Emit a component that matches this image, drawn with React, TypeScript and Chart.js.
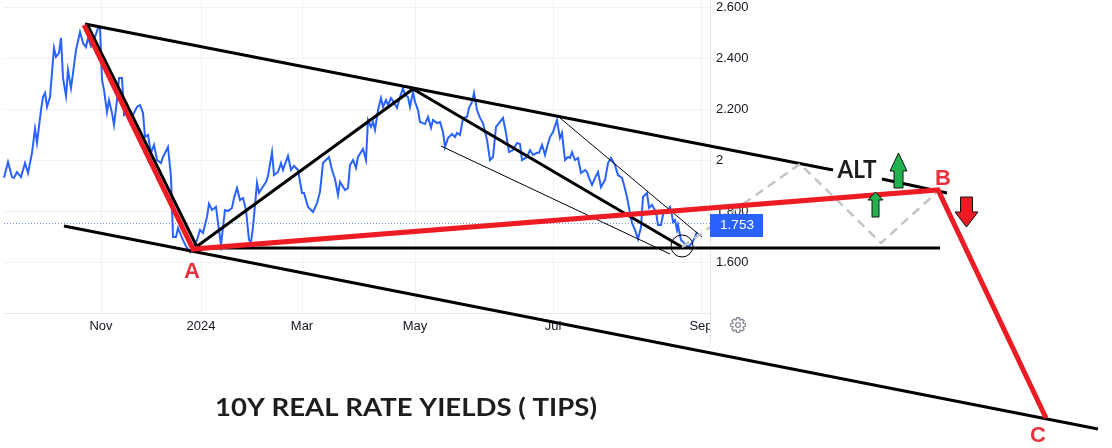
import React, { useEffect, useRef } from 'react';
import { Chart, registerables } from 'chart.js';

Chart.register(...registerables);

// Session timeline position (bar axis) and 10Y real yield values
const sessionIdx = [
  4, 8, 12, 14, 17, 21, 25, 28, 32, 35, 37, 41, 43, 45, 47, 50, 54, 56, 59, 61, 63, 66, 68, 71, 73, 76, 80, 83, 86, 88,
  91, 95, 98, 100, 102, 104, 107, 109, 112, 114, 117, 119, 122, 124, 127, 132, 137, 140, 143, 145, 148, 151, 154, 157,
  161, 163, 168, 171, 173, 176, 178, 180, 183, 186, 190, 194, 197, 200, 203, 207, 209, 212, 216, 218, 221, 223, 225, 228,
  232, 234, 237, 240, 243, 246, 249, 251, 253, 257, 259, 262, 266, 268, 272, 274, 278, 281, 283, 288, 291, 294, 298,
  302, 304, 308, 313, 317, 320, 323, 329, 332, 335, 338, 340, 345, 348, 350, 353, 356, 358, 363, 366, 368, 371, 373,
  375, 378, 381, 383, 386, 388, 391, 393, 397, 400, 403, 405, 408, 410, 413, 415, 418, 420, 425, 428, 431, 433, 437,
  440, 443, 445, 448, 452, 455, 457, 460, 463, 467, 469, 472, 474, 477, 480, 483, 487, 490, 493, 496, 499, 503, 506,
  509, 513, 517, 520, 522, 527, 530, 533, 537, 539, 542, 545, 547, 550, 553, 557, 558, 560, 562, 565, 568, 570, 572,
  575, 578, 581, 585, 587, 589, 592, 595, 598, 601, 605, 608, 611, 615, 618, 622, 624, 627, 630, 632, 635, 638, 641,
  643, 647, 649, 652, 656, 658, 661, 664, 668, 670, 672, 673, 675, 677, 678, 681, 684, 688, 692, 695, 697,
];
const realYield = [
  1.93, 1.992, 1.933, 1.93, 1.953, 1.933, 1.988, 1.949, 2.028, 2.122, 2.067, 2.196, 2.247, 2.263, 2.208, 2.247, 2.439,
  2.404, 2.42, 2.479, 2.322, 2.251, 2.353, 2.282, 2.341, 2.431, 2.502, 2.459, 2.443, 2.479, 2.447, 2.482, 2.518, 2.518,
  2.314, 2.275, 2.188, 2.235, 2.184, 2.137, 2.235, 2.322, 2.322, 2.177, 2.188, 2.169, 2.208, 2.216, 2.184, 2.09, 2.098,
  2.028, 2.059, 2.0, 1.988, 2.012, 2.051, 1.933, 1.698, 1.698, 1.733, 1.714, 1.686, 1.662, 1.639, 1.667, 1.686, 1.726,
  1.714, 1.777, 1.828, 1.804, 1.816, 1.753, 1.667, 1.737, 1.804, 1.8, 1.812, 1.851, 1.89, 1.843, 1.851, 1.804, 1.686,
  1.679, 1.737, 1.91, 1.871, 1.89, 1.914, 1.937, 2.031, 1.941, 1.953, 1.988, 1.961, 2.016, 1.961, 1.977, 1.961, 1.871,
  1.871, 1.816, 1.796, 1.831, 1.875, 1.988, 2.012, 1.961, 1.926, 1.863, 1.914, 1.882, 1.89, 1.98, 2.0, 1.969, 2.012,
  2.043, 2.0, 2.157, 2.13, 2.149, 2.118, 2.196, 2.243, 2.208, 2.235, 2.216, 2.243, 2.231, 2.204, 2.247, 2.282, 2.255,
  2.247, 2.208, 2.267, 2.228, 2.196, 2.149, 2.141, 2.169, 2.126, 2.157, 2.145, 2.149, 2.11, 2.051, 2.086, 2.102, 2.09,
  2.106, 2.098, 2.165, 2.169, 2.204, 2.228, 2.263, 2.196, 2.165, 2.145, 2.079, 2.0, 2.012, 2.13, 2.145, 2.165, 2.106,
  2.031, 2.039, 2.067, 2.063, 2.0, 2.012, 2.039, 2.02, 2.028, 2.028, 2.059, 2.02, 2.051, 2.09, 2.11, 2.157, 2.13, 2.086,
  2.106, 2.0, 2.012, 2.008, 2.031, 2.0, 2.008, 1.949, 1.961, 1.953, 1.93, 1.902, 1.93, 1.953, 1.894, 1.922, 1.988, 2.008,
  1.98, 1.941, 1.93, 1.902, 1.855, 1.792, 1.753, 1.726, 1.69, 1.737, 1.855, 1.871, 1.812, 1.824, 1.796, 1.745, 1.745,
  1.804, 1.804, 1.816, 1.784, 1.757, 1.765, 1.726, 1.745, 1.686, 1.675, 1.659, 1.675, 1.698, 1.718, 1.753,
];

const yTicks = [1.6, 1.8, 2.0, 2.2, 2.4, 2.6];
const yTickLabels = ['1.600', '1.800', '2', '2.200', '2.400', '2.600'];
const monthLabels = ['Nov', '2024', 'Mar', 'May', 'Jul', 'Sep'];
const monthPos = [101, 201, 302, 415, 553, 701];
const lastValue = 1.753;
const lastLabel = '1.753';
const title = '10Y REAL RATE YIELDS ( TIPS)';

// Annotation drawings (timeline position, yield)
const redWave = [[84, 2.5295], [193, 1.651], [938, 1.8824], [1046, 0.9883]];
const blackLeg1 = [[87, 2.5334], [197, 1.6589]];
const blackLeg2 = [[196, 1.6589], [413, 2.2785]];
const blackLeg3 = [[413, 2.2785], [682, 1.6589]];
const topChannelA = [[85, 2.5334], [833, 1.9608]];
const topChannelB = [[882, 1.9255], [947, 1.8706]];
const bottomChannel = [[64, 1.7412], [1098, 0.9451]];
const supportLine = [[195, 1.655], [940, 1.655]];
const thinLineA = [[441, 2.0549], [670, 1.6314]];
const thinLineB = [[560, 2.1648], [702, 1.698]];
const altPath = [[682, 1.6589], [800, 1.9844], [881, 1.6746], [936, 1.8706]];
const circlePoint = [[682, 1.6628]];

const pointLabels = [
  { text: 'A', x: 192, y: 1.5647 },
  { text: 'B', x: 943, y: 1.9294 },
  { text: 'C', x: 1038, y: 0.9216 },
];
const altLabel = { text: 'ALT', x: 857, y: 1.9588 };
const titlePos = { x: 406, y: 1.0275 };
const arrows = [
  { x: 898.5, y: 2.0275, dir: 'up', headW: 17, headH: 18, shaftW: 9, shaftL: 17, color: '#22b14c' },
  { x: 875.5, y: 1.8745, dir: 'up', headW: 15, headH: 8, shaftW: 7, shaftL: 17, color: '#22b14c' },
  { x: 966.5, y: 1.7373, dir: 'down', headW: 23, headH: 15, shaftW: 12, shaftL: 15, color: '#ed1c24' },
];

const toPts = (arr: number[][]) => arr.map(([x, y]) => ({ x, y }));

export default function App() {
  const ref = useRef<HTMLCanvasElement | null>(null);

  useEffect(() => {
    document.body.style.margin = '0';
    const canvas = ref.current;
    if (!canvas) return;

    const plotLeft = 4;
    const plotRight = 710;
    const plotBottomVal = 1.4;

    const bgPlugin = {
      id: 'tvBackground',
      beforeDatasetsDraw(chart: any) {
        const { ctx } = chart;
        const xs = chart.scales.x;
        const ys = chart.scales.y;
        const bottom = ys.getPixelForValue(plotBottomVal);
        ctx.save();
        ctx.lineWidth = 1;
        ctx.strokeStyle = '#f0f2f5';
        yTicks.forEach((t) => {
          const py = Math.round(ys.getPixelForValue(t)) + 0.5;
          ctx.beginPath();
          ctx.moveTo(plotLeft, py);
          ctx.lineTo(plotRight, py);
          ctx.stroke();
        });
        monthPos.forEach((m) => {
          const px = Math.round(xs.getPixelForValue(m)) + 0.5;
          ctx.beginPath();
          ctx.moveTo(px, 0);
          ctx.lineTo(px, bottom);
          ctx.stroke();
        });
        ctx.strokeStyle = '#e4e6eb';
        ctx.beginPath();
        ctx.moveTo(plotLeft, Math.round(bottom) + 0.5);
        ctx.lineTo(plotRight, Math.round(bottom) + 0.5);
        ctx.stroke();
        ctx.beginPath();
        ctx.moveTo(plotRight + 0.5, 0);
        ctx.lineTo(plotRight + 0.5, bottom + 28);
        ctx.stroke();

        // last-value dotted line
        const ly = Math.round(ys.getPixelForValue(lastValue)) + 0.5;
        ctx.strokeStyle = '#6f8ff7';
        ctx.setLineDash([1, 2]);
        ctx.beginPath();
        ctx.moveTo(plotLeft, ly);
        ctx.lineTo(plotRight, ly);
        ctx.stroke();
        ctx.setLineDash([]);

        // y labels
        ctx.fillStyle = '#131722';
        ctx.font = '13px "Liberation Sans", Arial, sans-serif';
        ctx.textAlign = 'left';
        ctx.textBaseline = 'middle';
        yTicks.forEach((t, i) => {
          ctx.fillText(yTickLabels[i], 716, ys.getPixelForValue(t));
        });

        // x labels (clipped at the price scale)
        ctx.save();
        ctx.beginPath();
        ctx.rect(0, bottom, plotRight, 40);
        ctx.clip();
        ctx.textAlign = 'center';
        monthLabels.forEach((m, i) => {
          ctx.fillText(m, xs.getPixelForValue(monthPos[i]), bottom + 13);
        });
        ctx.restore();

        // gear icon
        const gx = 738, gy = bottom + 12;
        ctx.strokeStyle = '#8a8d96';
        ctx.lineWidth = 1.3;
        ctx.beginPath();
        const n = 8;
        for (let i = 0; i < n; i++) {
          const a = (i / n) * Math.PI * 2;
          const d = Math.PI / n;
          const pts = [
            [a - d * 0.95, 5.3],
            [a - d * 0.45, 7.4],
            [a + d * 0.45, 7.4],
            [a + d * 0.95, 5.3],
          ];
          pts.forEach(([ang, r], j) => {
            const px = gx + Math.cos(ang) * r;
            const py = gy + Math.sin(ang) * r;
            if (i === 0 && j === 0) ctx.moveTo(px, py);
            else ctx.lineTo(px, py);
          });
        }
        ctx.closePath();
        ctx.stroke();
        ctx.beginPath();
        ctx.arc(gx, gy, 2.4, 0, Math.PI * 2);
        ctx.stroke();
        ctx.restore();
      },
      afterDatasetsDraw(chart: any) {
        const { ctx } = chart;
        const xs = chart.scales.x;
        const ys = chart.scales.y;
        ctx.save();
        // last value box
        const ly = ys.getPixelForValue(lastValue);
        ctx.fillStyle = '#2962ff';
        ctx.fillRect(plotRight, ly - 9, 53, 23);
        ctx.fillStyle = '#ffffff';
        ctx.font = '13.5px "Liberation Sans", Arial, sans-serif';
        ctx.textAlign = 'center';
        ctx.textBaseline = 'middle';
        ctx.fillText(lastLabel, plotRight + 27, ly + 2.5);

        // point labels
        ctx.fillStyle = '#e8333e';
        ctx.font = 'bold 22px "Liberation Sans", Arial, sans-serif';
        pointLabels.forEach((p) => {
          ctx.fillText(p.text, xs.getPixelForValue(p.x), ys.getPixelForValue(p.y) + 1);
        });

        // stretched bold texts
        const drawFit = (text: string, cx: number, cy: number, size: number, width: number) => {
          ctx.save();
          ctx.font = `bold ${size}px Lato, "Open Sans", sans-serif`;
          const w = ctx.measureText(text).width;
          ctx.translate(cx, cy);
          ctx.scale(width / w, 1);
          ctx.fillStyle = '#1d1d1d';
          ctx.textAlign = 'center';
          ctx.textBaseline = 'middle';
          ctx.fillText(text, 0, 0);
          ctx.restore();
        };
        drawFit(altLabel.text, xs.getPixelForValue(altLabel.x), ys.getPixelForValue(altLabel.y), 24, 39);
        drawFit(title, xs.getPixelForValue(titlePos.x), ys.getPixelForValue(titlePos.y), 24, 382);

        // arrows
        arrows.forEach((a) => {
          const tx = xs.getPixelForValue(a.x);
          const ty = ys.getPixelForValue(a.y);
          const s = a.dir === 'up' ? 1 : -1;
          ctx.beginPath();
          ctx.moveTo(tx, ty);
          ctx.lineTo(tx + a.headW / 2, ty + s * a.headH);
          ctx.lineTo(tx + a.shaftW / 2, ty + s * a.headH);
          ctx.lineTo(tx + a.shaftW / 2, ty + s * (a.headH + a.shaftL));
          ctx.lineTo(tx - a.shaftW / 2, ty + s * (a.headH + a.shaftL));
          ctx.lineTo(tx - a.shaftW / 2, ty + s * a.headH);
          ctx.lineTo(tx - a.headW / 2, ty + s * a.headH);
          ctx.closePath();
          ctx.fillStyle = a.color;
          ctx.fill();
          ctx.strokeStyle = '#111';
          ctx.lineWidth = 1;
          ctx.stroke();
        });
        ctx.restore();
      },
    };

    const lineDs = (data: number[][], color: string, width: number, order: number, extra: any = {}) => ({
      type: 'line',
      data: toPts(data),
      borderColor: color,
      borderWidth: width,
      pointRadius: 0,
      fill: false,
      tension: 0,
      order,
      clip: false,
      ...extra,
    });

    const chart = new Chart(canvas, {
      type: 'line',
      data: {
        datasets: [
          {
            type: 'line',
            data: sessionIdx.map((x, i) => ({ x, y: realYield[i] })),
            borderColor: '#2962ff',
            borderWidth: 2,
            pointRadius: 0,
            fill: false,
            tension: 0,
            order: 20,
          },
          lineDs(thinLineA, '#000', 1, 15),
          lineDs(thinLineB, '#000', 1, 15),
          lineDs(bottomChannel, '#000', 3, 12),
          lineDs(topChannelA, '#000', 3, 12),
          lineDs(topChannelB, '#000', 3, 12),
          lineDs(supportLine, '#000', 3, 12),
          lineDs(blackLeg1, '#000', 3, 11),
          lineDs(blackLeg2, '#000', 3, 11),
          lineDs(blackLeg3, '#000', 3, 11),
          lineDs(altPath, '#c4c4c4', 2.5, 8, { borderDash: [9, 6] }),
          lineDs(redWave, '#ed1c24', 5, 5, { borderJoinStyle: 'miter' }),
          {
            type: 'line',
            data: toPts(circlePoint),
            showLine: false,
            pointRadius: 11,
            pointBackgroundColor: 'rgba(0,0,0,0)',
            pointBorderColor: '#000',
            pointBorderWidth: 1,
            order: 1,
            clip: false,
          },
        ],
      },
      options: {
        animation: false,
        responsive: false,
        maintainAspectRatio: false,
        layout: { padding: 0, autoPadding: false },
        plugins: { legend: { display: false }, tooltip: { enabled: false }, title: { display: false } },
        events: [],
        scales: {
          x: { type: 'linear', min: 0, max: 1112, display: false },
          y: { type: 'linear', min: 2.6275 - 448 / 255, max: 2.6275, display: false },
        },
      },
      plugins: [bgPlugin],
    } as any);

    return () => chart.destroy();
  }, []);

  return (
    <div style={{ width: 1112, height: 448, background: '#fff' }}>
      <canvas ref={ref} width={1112} height={448} style={{ display: 'block' }} />
    </div>
  );
}
